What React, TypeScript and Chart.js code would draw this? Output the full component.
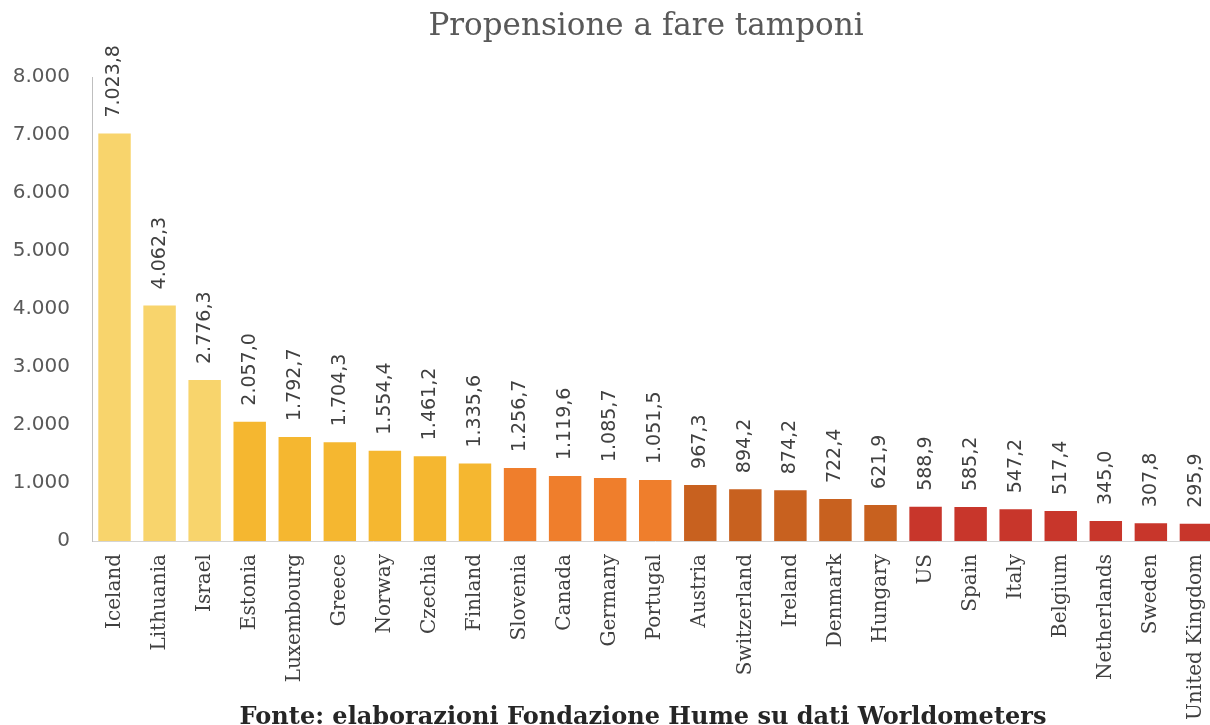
import React, { useEffect, useRef } from "react";
import { Chart, registerables } from "chart.js";

Chart.register(...registerables);

const countries = [
  "Iceland", "Lithuania", "Israel", "Estonia", "Luxembourg", "Greece", "Norway",
  "Czechia", "Finland", "Slovenia", "Canada", "Germany", "Portugal", "Austria",
  "Switzerland", "Ireland", "Denmark", "Hungary", "US", "Spain", "Italy",
  "Belgium", "Netherlands", "Sweden", "United Kingdom",
];

const testsPerMillion = [
  7023.8, 4062.3, 2776.3, 2057.0, 1792.7, 1704.3, 1554.4, 1461.2, 1335.6,
  1256.7, 1119.6, 1085.7, 1051.5, 967.3, 894.2, 874.2, 722.4, 621.9, 588.9,
  585.2, 547.2, 517.4, 345.0, 307.8, 295.9,
];

// colour group of each country (0 = highest group)
const tiers = [0, 0, 0, 1, 1, 1, 1, 1, 1, 2, 2, 2, 2, 3, 3, 3, 3, 3, 4, 4, 4, 4, 4, 4, 4];

const yTicks = [0, 1000, 2000, 3000, 4000, 5000, 6000, 7000, 8000];

const chartTitle = "Propensione a fare tamponi";
const sourceNote = "Fonte: elaborazioni Fondazione Hume su dati Worldometers";

const palette = ["#F8D46C", "#F5B730", "#EF7E2C", "#C8611F", "#C8362B"];

function fmtIt(v: number, decimals: number): string {
  const fixed = v.toFixed(decimals);
  const [intPart, decPart] = fixed.split(".");
  const withDots = intPart.replace(/\B(?=(\d{3})+(?!\d))/g, ".");
  return decPart !== undefined ? withDots + "," + decPart : withDots;
}

const valueLabelPlugin = {
  id: "valueLabels",
  afterDatasetsDraw(chart: any) {
    const ctx = chart.ctx;
    const meta = chart.getDatasetMeta(0);
    ctx.save();
    ctx.font = "19px 'DejaVu Sans'";
    ctx.fillStyle = "#404040";
    ctx.textAlign = "left";
    ctx.textBaseline = "middle";
    meta.data.forEach((bar: any, i: number) => {
      const v = chart.data.datasets[0].data[i] as number;
      ctx.save();
      ctx.translate(bar.x, bar.y - 16);
      ctx.rotate(-Math.PI / 2);
      ctx.fillText(fmtIt(v, 1), 0, 0);
      ctx.restore();
    });
    ctx.restore();
  },
};

export default function App() {
  const canvasRef = useRef<HTMLCanvasElement | null>(null);

  useEffect(() => {
    if (!canvasRef.current) return;
    const chart = new Chart(canvasRef.current, {
      type: "bar",
      data: {
        labels: countries,
        datasets: [
          {
            data: testsPerMillion,
            backgroundColor: tiers.map((t) => palette[t]),
            borderWidth: 0,
            categoryPercentage: 1,
            barPercentage: 0.72,
          },
        ],
      },
      options: {
        animation: false,
        responsive: false,
        maintainAspectRatio: false,
        layout: { padding: { top: 77, right: 4, bottom: 0, left: 0 } },
        plugins: {
          legend: { display: false },
          title: { display: false },
          tooltip: { enabled: false },
        },
        scales: {
          x: {
            grid: { display: false },
            border: { display: true, color: "#D4D4D4", width: 1 },
            ticks: {
              autoSkip: false,
              minRotation: 90,
              maxRotation: 90,
              padding: 5,
              color: "#404040",
              font: { family: "'DejaVu Serif'", size: 20 },
            },
            afterFit(scale: any) {
              scale.height = 184;
            },
          },
          y: {
            min: 0,
            max: 8000,
            afterBuildTicks(scale: any) {
              scale.ticks = yTicks.map((v) => ({ value: v }));
            },
            grid: { display: false },
            border: { display: true, color: "#BFBFBF", width: 1 },
            ticks: {
              padding: 14,
              color: "#595959",
              font: { family: "'DejaVu Sans'", size: 20 },
              callback: (v: any) => fmtIt(Number(v), 0),
            },
            afterFit(scale: any) {
              scale.width = 92;
            },
          },
        },
      },
      plugins: [valueLabelPlugin],
    });
    return () => chart.destroy();
  }, []);

  return (
    <div
      style={{
        position: "fixed",
        left: 0,
        top: 0,
        width: 1225,
        height: 725,
        background: "#ffffff",
        overflow: "hidden",
      }}
    >
      <canvas ref={canvasRef} width={1225} height={725} style={{ display: "block" }} />
      <div
        style={{
          position: "absolute",
          left: 646,
          top: 9,
          transform: "translateX(-50%)",
          whiteSpace: "nowrap",
          fontFamily: "'DejaVu Serif'",
          fontSize: 31,
          lineHeight: "31px",
          color: "#595959",
        }}
      >
        {chartTitle}
      </div>
      <div
        style={{
          position: "absolute",
          left: 643,
          top: 704,
          transform: "translateX(-50%)",
          whiteSpace: "nowrap",
          fontFamily: "'DejaVu Serif'",
          fontWeight: "bold",
          fontSize: 24,
          lineHeight: "24px",
          color: "#262626",
        }}
      >
        {sourceNote}
      </div>
    </div>
  );
}
